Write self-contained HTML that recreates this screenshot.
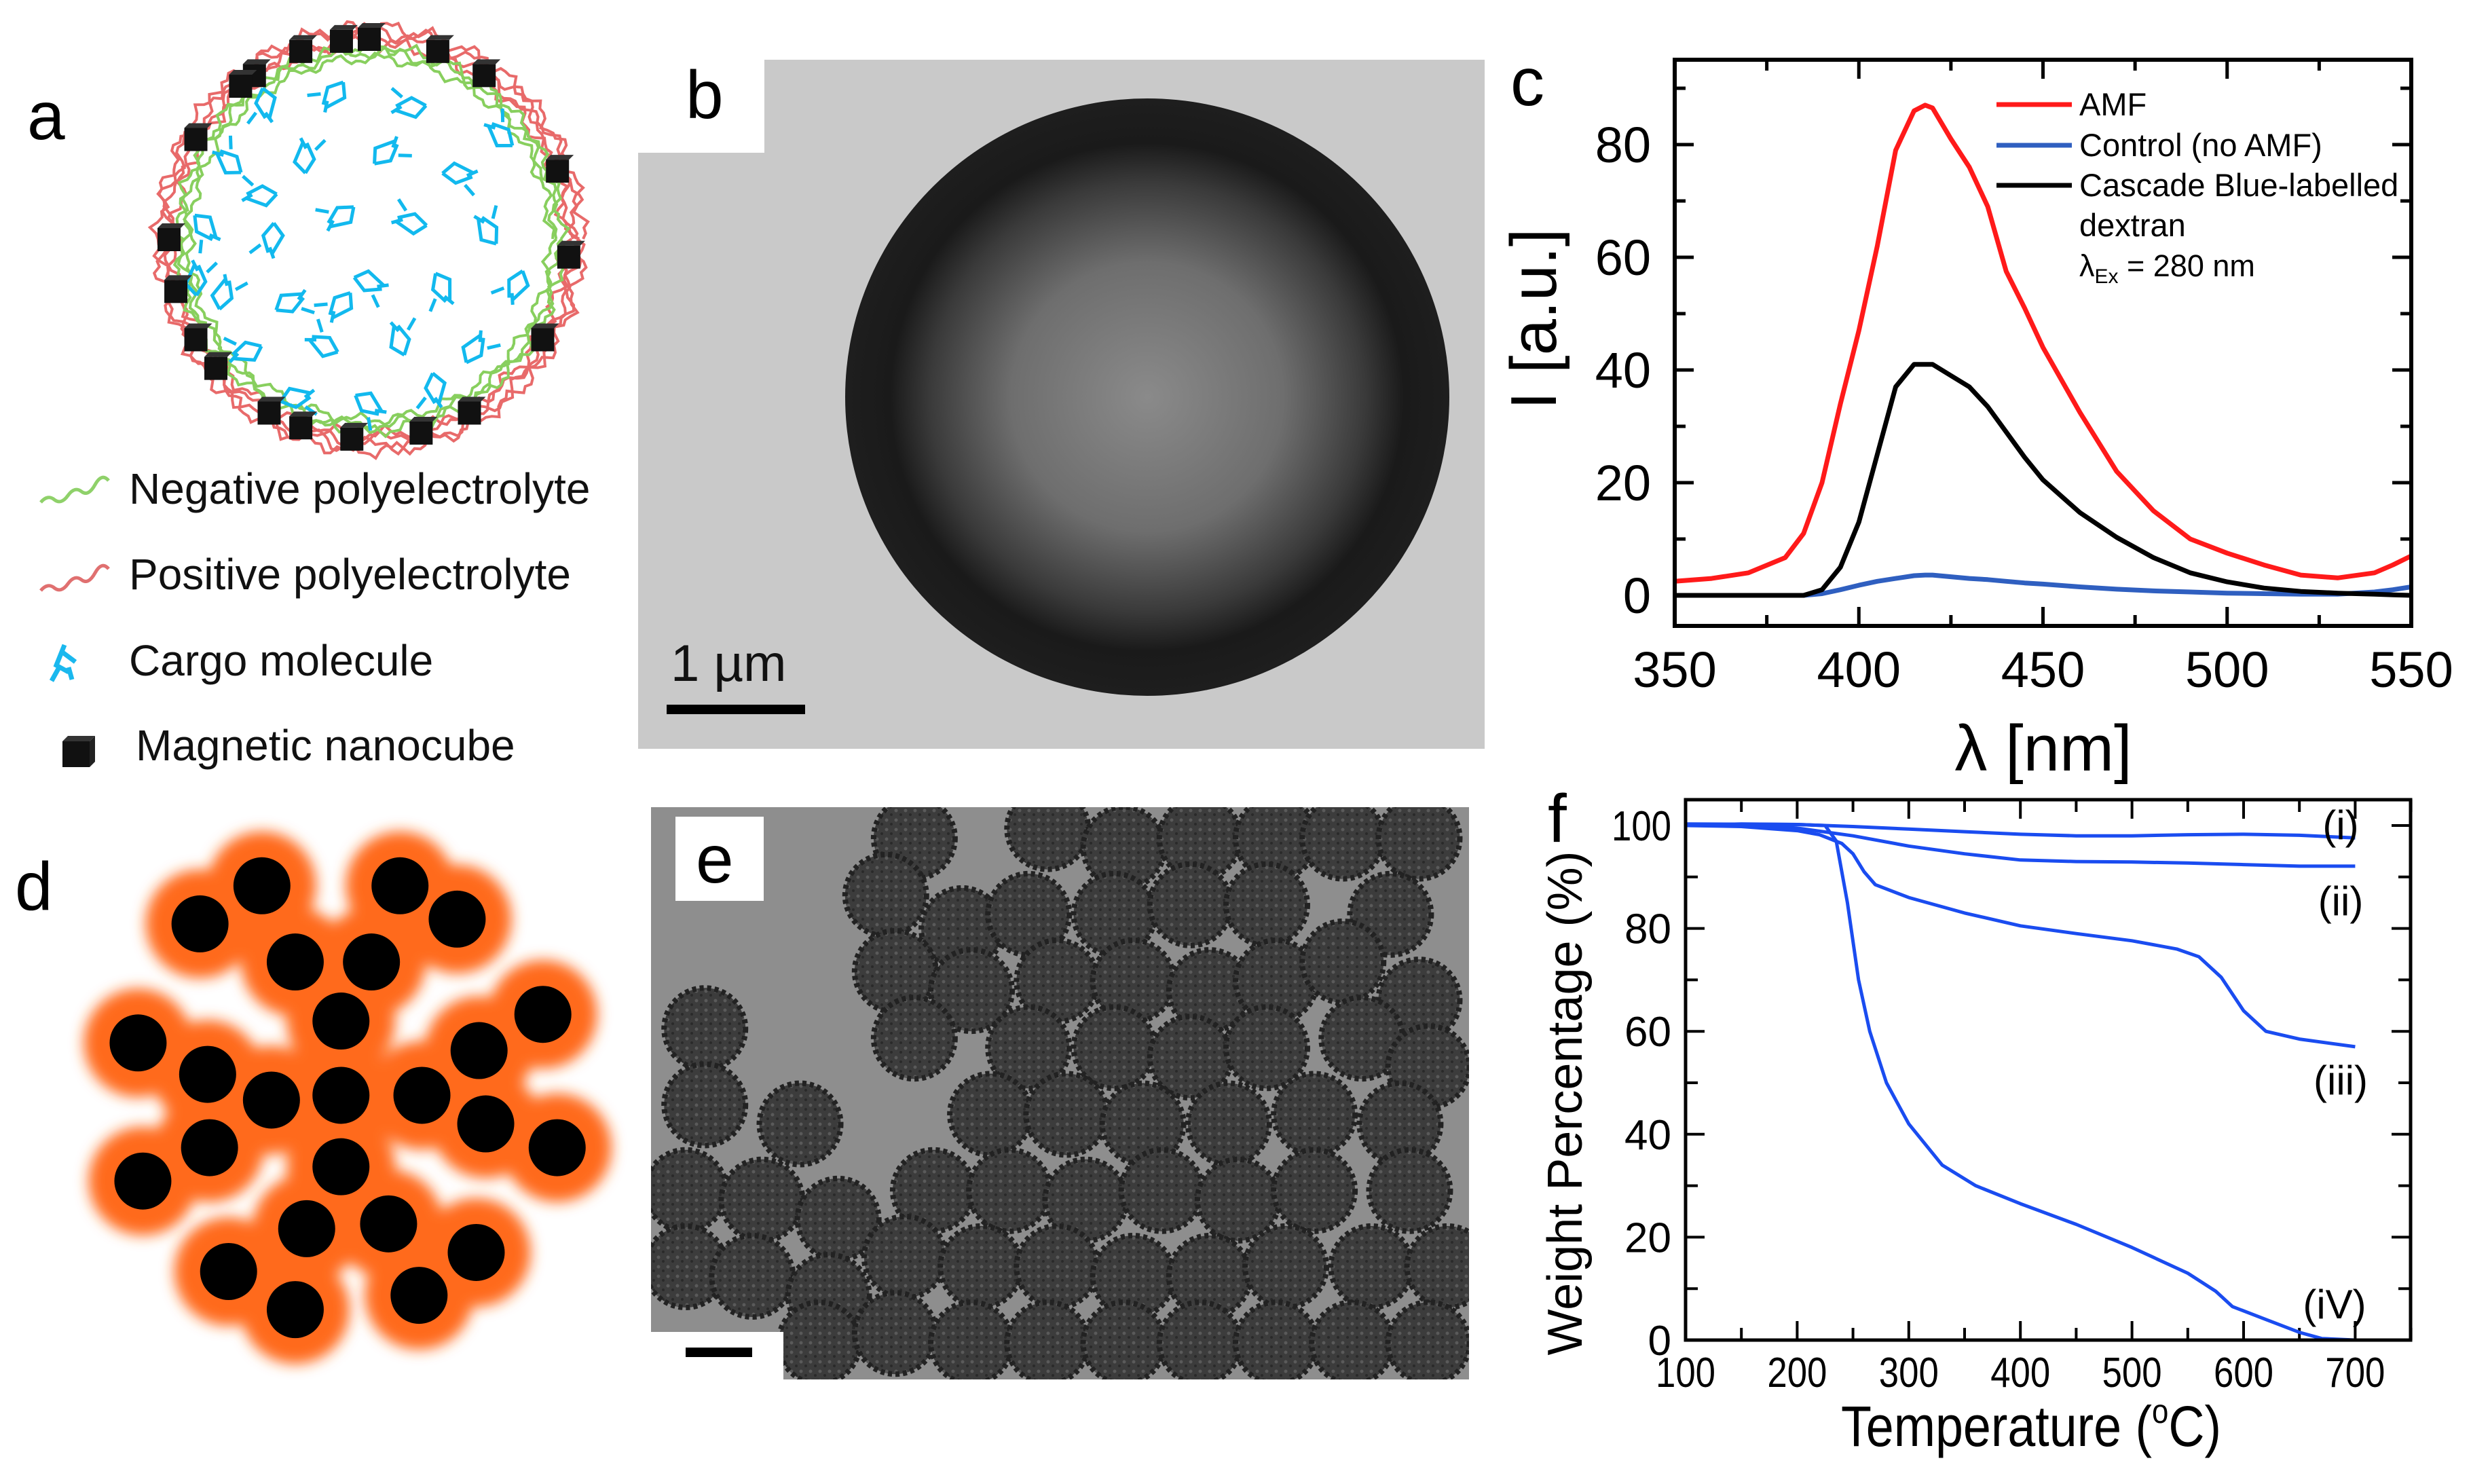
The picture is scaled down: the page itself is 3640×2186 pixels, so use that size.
<!DOCTYPE html>
<html><head><meta charset="utf-8"><style>
html,body{margin:0;padding:0;background:#fff}
svg{display:block}
text{font-family:"Liberation Sans",Arial,sans-serif}
</style></head><body>
<svg id="fig" width="3640" height="2186" viewBox="0 0 3640 2186" xmlns="http://www.w3.org/2000/svg">
<defs>
<radialGradient id="bGrad" cx="0.5" cy="0.5" r="0.5">
<stop offset="0" stop-color="#8a8a8a"/><stop offset="0.45" stop-color="#6e6e6e"/><stop offset="0.72" stop-color="#3a3a3a"/><stop offset="0.85" stop-color="#1a1a1a"/><stop offset="1" stop-color="#1e1e1e"/>
</radialGradient>
<filter id="blurO"><feGaussianBlur stdDeviation="10"/></filter>
<clipPath id="eClip"><path d="M959,1189 H2164 V2032 H1154 V1962 H959 Z"/></clipPath>
<pattern id="speck" width="14" height="14" patternUnits="userSpaceOnUse"><rect width="14" height="14" fill="#3c3c3c"/><circle cx="4" cy="4" r="2.5" fill="#5a5a5a"/><circle cx="11" cy="10" r="2" fill="#2a2a2a"/></pattern>
</defs>

<!-- Panel a -->
<g>
<text x="40" y="205" font-size="100">a</text>
<g id="aRings"></g>
<g id="aCargo"></g>
<g id="aCubes"></g>
<g>
<path d="M60,740 q10,-12 20,-4 t20,-6 t20,-6 t20,-10 t20,-6" fill="none" stroke="#8fd16a" stroke-width="5"/>
<text x="190" y="742" font-size="64" fill="#111">Negative polyelectrolyte</text>
<path d="M60,870 q10,-12 20,-4 t20,-6 t20,-6 t20,-10 t20,-6" fill="none" stroke="#e07070" stroke-width="5"/>
<text x="190" y="868" font-size="64" fill="#111">Positive polyelectrolyte</text>
<path d="M95,950 l-12,30 l18,10 m-10,-30 l20,15 m-25,10 l-10,18 m25,-20 l5,18" fill="none" stroke="#1ab8ee" stroke-width="7"/>
<text x="190" y="995" font-size="64" fill="#111">Cargo molecule</text>
<g><rect x="92" y="1092" width="40" height="38" fill="#111"/><path d="M92,1092 l8,-8 h40 l-8,8z" fill="#333"/><path d="M132,1092 l8,-8 v38 l-8,8z" fill="#222"/></g>
<text x="200" y="1120" font-size="64" fill="#111">Magnetic nanocube</text>
</g>
</g>

<!-- Panel b -->
<g>
<path d="M1126,88 H2187 V1103 H940 V225 H1126 Z" fill="#c9c9c9"/>
<ellipse cx="1690" cy="585" rx="445" ry="440" fill="url(#bGrad)"/>
<text x="1010" y="174" font-size="100">b</text>
<text x="988" y="1003" font-size="76" fill="#111">1 µm</text>
<rect x="982" y="1038" width="204" height="14" fill="#000"/>
</g>

<!-- Panel d -->
<g>
<text x="22" y="1340" font-size="100">d</text>
<g id="dHalo" filter="url(#blurO)"></g>
<g id="dDots"></g>
</g>

<!-- Panel e -->
<g>
<path d="M959,1189 H2164 V2032 H1154 V1962 H959 Z" fill="#8e8e8e"/>
<g id="eParts" clip-path="url(#eClip)"></g>
<rect x="995" y="1203" width="130" height="124" fill="#fff"/>
<text x="1025" y="1300" font-size="100">e</text>
<rect x="1010" y="1985" width="98" height="14" fill="#000"/>
</g>

<!-- Panel c chart -->
<g id="chartC">
<text x="2225" y="155" font-size="100">c</text>
<g id="cTicks"></g>
<g id="cLines"></g>
<rect x="2467" y="88" width="1085" height="834" fill="none" stroke="#000" stroke-width="6"/>
<text x="3010" y="1135" font-size="96" text-anchor="middle">λ [nm]</text>
<text transform="translate(2292,470) rotate(-90)" font-size="96" text-anchor="middle">I [a.u.]</text>
<g>
<line x1="2941" y1="154" x2="3052" y2="154" stroke="#ff1a1a" stroke-width="7"/>
<text x="3063" y="170" font-size="47">AMF</text>
<line x1="2941" y1="214" x2="3052" y2="214" stroke="#2f5fc0" stroke-width="7"/>
<text x="3063" y="230" font-size="47">Control (no AMF)</text>
<line x1="2941" y1="273" x2="3052" y2="273" stroke="#000" stroke-width="7"/>
<text x="3063" y="289" font-size="47">Cascade Blue-labelled</text>
<text x="3063" y="348" font-size="47">dextran</text>
<text x="3063" y="407" font-size="45">λ<tspan font-size="30" dy="10">Ex</tspan><tspan dy="-10"> = 280 nm</tspan></text>
</g>
</g>

<!-- Panel f chart -->
<g id="chartF">
<text x="2280" y="1240" font-size="100">f</text>
<g id="fTicks"></g>
<g id="fLines"></g>
<rect x="2483" y="1178" width="1068" height="796" fill="none" stroke="#000" stroke-width="5"/>
<text x="2992" y="2130" font-size="84" text-anchor="middle" textLength="560" lengthAdjust="spacingAndGlyphs">Temperature (<tspan font-size="50" dy="-34">o</tspan><tspan dy="34">C)</tspan></text>
<text transform="translate(2330,1625) rotate(-90)" font-size="72" text-anchor="middle">Weight Percentage (%)</text>
<text x="3448" y="1236" font-size="60" text-anchor="middle">(i)</text>
<text x="3448" y="1348" font-size="60" text-anchor="middle">(ii)</text>
<text x="3448" y="1612" font-size="60" text-anchor="middle">(iii)</text>
<text x="3439" y="1942" font-size="60" text-anchor="middle">(iV)</text>
</g>
</svg>

<script>
// ---------- Chart c data ----------
const cX = [350,360,370,380,385,390,395,400,405,410,415,418,420,425,430,435,440,445,450,460,470,480,490,500,510,520,530,540,545,550];
const cAMF = [2.5,3,4,6.7,11,20,34,47,62,79,86,87,86.5,81,76,69,57.5,51,44,32.5,22,15,10,7.5,5.4,3.6,3.1,4,5.4,7];
const cCascade = [0,0,0,0,0,1,5,13,25,37,41,41,41,39,37,33.5,29,24.5,20.5,14.7,10.3,6.7,4,2.4,1.3,0.7,0.4,0.2,0.1,0];
const cControl = [0,0,0,0,0,0.3,1,1.8,2.5,3,3.5,3.6,3.6,3.3,3,2.8,2.5,2.2,2,1.5,1.1,0.8,0.6,0.4,0.3,0.2,0.2,0.6,1,1.5];
const cXTicks = [350,400,450,500,550];
const cYTicks = [0,20,40,60,80];

// ---------- Chart f data ----------
const fX_i = [100,150,200,250,300,350,400,450,500,550,600,650,700];
const fY_i = [100,100.3,100.2,99.8,99.3,98.8,98.3,98,98,98.2,98.3,98.1,97.6];
const fX_ii = [100,150,200,250,300,350,400,450,500,550,600,650,700];
const fY_ii = [100,100,99.5,98,96,94.5,93.3,93,92.9,92.7,92.4,92.1,92.1];
const fX_iii = [100,150,200,220,240,250,260,270,300,350,400,450,500,540,560,580,600,620,650,700];
const fY_iii = [100,99.8,99,98.2,96.5,94.5,91,88.5,86,83,80.5,79,77.6,76,74.5,70.5,64,60,58.5,57];
const fX_iv = [100,200,225,235,245,255,265,280,300,330,360,400,450,500,550,575,590,620,650,670,700];
const fY_iv = [100.3,100.2,100,97,85,70,60,50,42,34,30,26.5,22.5,18,13,9.5,6.5,4,1.5,0.3,0];
const fXTicks = [100,200,300,400,500,600,700];
const fYTicks = [0,20,40,60,80,100];

const NS = "http://www.w3.org/2000/svg";
function mk(tag, attrs, parent){const e=document.createElementNS(NS,tag);for(const k in attrs)e.setAttribute(k,attrs[k]);parent.appendChild(e);return e;}

const xc = v => 2467 + (v-350)*(3552-2467)/200;
const yc = v => 877 - v*8.3;
const xf = v => 2483 + (v-100)*1.644;
const yf = v => 1974 - v*7.58;

const cT = document.getElementById('cTicks');
for (let v=350; v<=550; v+=25){
  const major = cXTicks.includes(v), L = major?28:16;
  let t=mk('line',{x1:xc(v),y1:922,x2:xc(v),y2:922-L,stroke:'#000','stroke-width':5},cT);
  
  
  t=mk('line',{x1:xc(v),y1:88,x2:xc(v),y2:88+L,stroke:'#000','stroke-width':5},cT);
  
  
}
cXTicks.forEach(v=>{
  const t=mk('text',{x:xc(v),y:1012,'font-size':74,'text-anchor':'middle'},cT);t.textContent=v;
  
  
});
for (let v=0; v<=90; v+=10){
  const major = cYTicks.includes(v), L = major?28:16;
  let t=mk('line',{x1:2467,y1:yc(v),x2:2467+L,y2:yc(v),stroke:'#000','stroke-width':5},cT);
  
  
  t=mk('line',{x1:3552,y1:yc(v),x2:3552-L,y2:yc(v),stroke:'#000','stroke-width':5},cT);
  
  
}
cYTicks.forEach(v=>{
  const t=mk('text',{x:2432,y:yc(v)+26,'font-size':74,'text-anchor':'end'},cT);t.textContent=v;
  
  
});
const cL=document.getElementById('cLines');
function cPath(ys,color,name){
  const d=cX.map((x,i)=>(i?'L':'M')+xc(x).toFixed(1)+','+yc(ys[i]).toFixed(1)).join(' ');
  const p=mk('path',{d:d,fill:'none',stroke:color,'stroke-width':7,'stroke-linejoin':'round'},cL);
  
  
}
cPath(cControl,'#2f5fc0','line-control');
cPath(cCascade,'#000','line-cascade-blue');
cPath(cAMF,'#ff1a1a','line-amf');

const fT=document.getElementById('fTicks');
for (let v=100; v<=750; v+=50){
  const major = fXTicks.includes(v), L = major?28:18;
  let t=mk('line',{x1:xf(v),y1:1974,x2:xf(v),y2:1974-L,stroke:'#000','stroke-width':4},fT);
  
  
  t=mk('line',{x1:xf(v),y1:1178,x2:xf(v),y2:1178+L,stroke:'#000','stroke-width':4},fT);
  
  
}
fXTicks.forEach(v=>{
  const t=mk('text',{x:xf(v),y:2043,'font-size':62,'text-anchor':'middle',textLength:88,lengthAdjust:'spacingAndGlyphs'},fT);t.textContent=v;
  
  
});
for (let v=0; v<=100; v+=10){
  const major = fYTicks.includes(v), L = major?28:18;
  let t=mk('line',{x1:2483,y1:yf(v),x2:2483+L,y2:yf(v),stroke:'#000','stroke-width':4},fT);
  
  
  t=mk('line',{x1:3551,y1:yf(v),x2:3551-L,y2:yf(v),stroke:'#000','stroke-width':4},fT);
  
  
}
fYTicks.forEach(v=>{
  const t=mk('text',{x:2462,y:yf(v)+22,'font-size':62,'text-anchor':'end'},fT);t.textContent=v;
  if(v===100){t.setAttribute('textLength',88);t.setAttribute('lengthAdjust','spacingAndGlyphs');}
  
  
});
const fL=document.getElementById('fLines');
function fPath(xs,ys,name){
  const d=xs.map((x,i)=>(i?'L':'M')+xf(x).toFixed(1)+','+yf(ys[i]).toFixed(1)).join(' ');
  const p=mk('path',{d:d,fill:'none',stroke:'#1a4cf0','stroke-width':5,'stroke-linejoin':'round'},fL);
  
  
}
fPath(fX_i,fY_i,'curve-i');
fPath(fX_ii,fY_ii,'curve-ii');
fPath(fX_iii,fY_iii,'curve-iii');
fPath(fX_iv,fY_iv,'curve-iv');

// ---------- Panel a illustration ----------
const aR=document.getElementById('aRings');
const CX=545, CY=352;
function wavy(r,amp,freq,phase,color){
  let d='';
  for(let i=0;i<=240;i++){
    const a=i/240*Math.PI*2;
    const rr=r+amp*Math.sin(a*freq+phase)+amp*0.6*Math.sin(a*freq*2.7+phase*1.3);
    d+=(i?'L':'M')+(CX+rr*Math.cos(a)).toFixed(1)+','+(CY+rr*Math.sin(a)).toFixed(1);
  }
  const p=mk('path',{d:d,fill:'none',stroke:color,'stroke-width':4},aR);
  
  
}
[[305,9,23,0],[296,8,19,1.2],[288,8,27,2.1],[312,8,31,3.3]].forEach(o=>wavy(o[0],o[1],o[2],o[3],'#e86a6a'));
[[275,7,21,0.5],[266,6,25,1.7],[282,7,29,2.8]].forEach(o=>wavy(o[0],o[1],o[2],o[3],'#88cf5e'));
const aC=document.getElementById('aCargo');
const cargoPos=[[-150,-200],[-50,-210],[60,-190],[-210,-110],[-100,-120],[20,-130],[130,-100],[-240,-20],[-140,0],[-40,-30],[60,-20],[170,-10],[-220,80],[-120,90],[0,60],[110,70],[220,70],[-180,170],[-70,160],[40,150],[150,160],[-110,230],[0,240],[100,220],[-40,100],[-160,-60],[190,-150],[-260,60]];
cargoPos.forEach((p,i)=>{
  const x=CX+p[0], y=CY+p[1], r=(i*47)%360;
  const g=mk('path',{d:`M${x-8},${y-22} l-10,22 l14,22 m-4,-44 l18,14 l-8,30 m-20,-8 l-12,16 m26,-16 l10,14`,fill:'none',stroke:'#12b9ee','stroke-width':5,transform:`rotate(${r} ${x} ${y})`},aC);
  
  
});
const aCu=document.getElementById('aCubes');
[-90,-55,-20,5,30,60,95,120,150,180,210,235,262,290,-130,-110,75,110,140,165].forEach(deg=>{
  const a=deg*Math.PI/180, x=CX+295*Math.cos(a), y=CY+295*Math.sin(a);
  const g=mk('g',{},aCu);
  
  
  mk('rect',{x:x-18,y:y-16,width:34,height:34,fill:'#111'},g);
  mk('path',{d:`M${x-18},${y-16} l7,-7 h34 l-7,7z`,fill:'#333'},g);
});

// ---------- Panel d ----------
const dPos=[[275,930],[420,930],[210,970],[480,965],[310,1010],[390,1010],[358,1072],[570,1065],[145,1095],[218,1128],[285,1155],[358,1150],[443,1150],[503,1103],[510,1180],[585,1205],[220,1205],[150,1240],[358,1225],[322,1290],[408,1285],[500,1315],[240,1335],[310,1375],[440,1360]];
const dH=document.getElementById('dHalo'), dD=document.getElementById('dDots');
dPos.forEach(p=>{
  const x=p[0]*1.403, y=p[1]*1.403;
  const h=mk('circle',{cx:x,cy:y,r:80,fill:'#ff6a1a'},dH);
  
  
});
dPos.forEach(p=>{
  const x=p[0]*1.403, y=p[1]*1.403;
  const c=mk('circle',{cx:x,cy:y,r:42,fill:'#000'},dD);
  
  
});

// ---------- Panel e ----------
const ePos=[[960,880],[1100,870],[1180,890],[1260,880],[1340,880],[1410,880],[1490,880],[930,940],[1010,975],[1080,960],[1170,960],[1250,950],[1330,950],[1460,960],[940,1020],[1020,1040],[1110,1030],[1190,1030],[1270,1040],[1340,1030],[1410,1010],[1490,1050],[740,1080],[960,1090],[1080,1100],[1170,1100],[1250,1110],[1330,1100],[1430,1090],[1500,1120],[740,1160],[840,1180],[1040,1170],[1120,1170],[1200,1180],[1290,1180],[1380,1170],[1470,1180],[720,1250],[800,1260],[880,1280],[980,1250],[1060,1250],[1140,1260],[1220,1250],[1300,1260],[1380,1250],[1480,1250],[720,1330],[790,1340],[870,1360],[950,1320],[1030,1330],[1110,1330],[1190,1340],[1270,1340],[1350,1330],[1440,1330],[1520,1330],[860,1410],[940,1400],[1020,1410],[1100,1410],[1180,1410],[1260,1410],[1340,1410],[1420,1410],[1500,1410]];
const eP=document.getElementById('eParts');
ePos.forEach(p=>{
  const c=mk('circle',{cx:p[0]*1.403,cy:p[1]*1.403,r:60,fill:'url(#speck)',stroke:'#222','stroke-width':8,'stroke-dasharray':'6 5'},eP);
  
  
});
</script>
</body></html>
